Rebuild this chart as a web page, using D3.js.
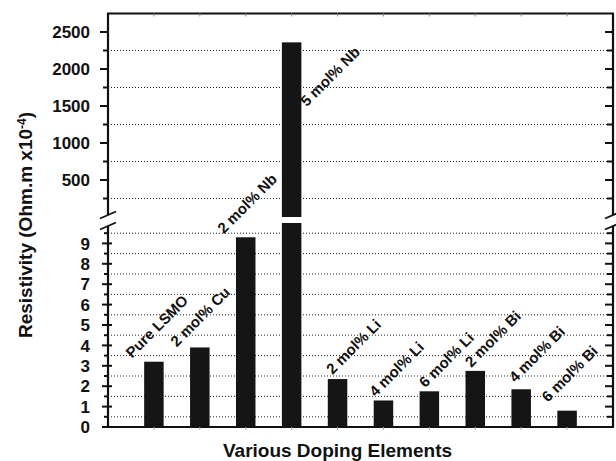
<!DOCTYPE html>
<html>
<head>
  <meta charset="UTF-8">
  <title>Resistivity by Doping Element</title>
  <style>
    body {
      margin: 0;
      padding: 0;
      background: #fff;
      font-family: "Liberation Sans", Arial, sans-serif;
    }
    svg text {
      font-weight: bold;
      fill: #111;
    }
  </style>
</head>
<body>
  <svg width="616" height="461"></svg>

  <script src="https://d3js.org/d3.v7.min.js"></script>
  <script>
    // data
    let categories = ["Pure LSMO", "2 mol% Cu", "2 mol% Nb", "5 mol% Nb", "2 mol% Li",
                      "4 mol% Li", "6 mol% Li", "2 mol% Bi", "4 mol% Bi", "6 mol% Bi"];
    let resistivity = [3.2, 3.9, 9.3, 2360, 2.35, 1.3, 1.75, 2.75, 1.85, 0.8];
    let upperTicks = [500, 1000, 1500, 2000, 2500];
    let lowerTicks = [0, 1, 2, 3, 4, 5, 6, 7, 8, 9];

    // hand placed label nudges, like in the original figure
    let labelDx = [-22, -23, -22, 15, -5, -8, -4, -4, -6, -19];
    let labelDy = [-3, 0, -3, 65, -4, -3, -3, -3, -6, -8];

    let pLeft = 108, pRight = 613, pTop = 13.5, pBottom = 427;
    let upBottom = 217, loTop = 223;

    let svg = d3.select("svg");

    let x = d3.scalePoint()
        .domain(categories)
        .range([pLeft, pRight])
        .padding(1);

    let yUp = d3.scaleLinear().domain([0, 2750]).range([upBottom, pTop]);
    let yLo = d3.scaleLinear().domain([0, 10]).range([pBottom, loTop]);
    let loMax = yLo.domain()[1];
    let barW = 19.5;

    // dotted grid lines at the half steps
    let upGrid = d3.range(250, 2750, 500);
    let loGrid = d3.range(0.5, 10, 1);

    let grid = svg.append("g")
        .attr("stroke", "#222")
        .attr("stroke-width", 1)
        .attr("stroke-dasharray", "1,2");

    grid.selectAll(".gu")
      .data(upGrid)
      .enter()
      .append("line")
        .attr("x1", pLeft).attr("x2", pRight)
        .attr("y1", d => yUp(d)).attr("y2", d => yUp(d));

    grid.selectAll(".gl")
      .data(loGrid)
      .enter()
      .append("line")
        .attr("x1", pLeft).attr("x2", pRight)
        .attr("y1", d => yLo(d)).attr("y2", d => yLo(d));

    // bars, split over the two segments
    let bars = svg.append("g").attr("fill", "#151515");

    categories.forEach((c, i) => {
      let v = resistivity[i];
      bars.append("rect")
          .attr("x", x(c) - barW / 2)
          .attr("width", barW)
          .attr("y", yLo(Math.min(v, loMax)))
          .attr("height", pBottom - yLo(Math.min(v, loMax)));
      if (v > loMax) {
        bars.append("rect")
            .attr("x", x(c) - barW / 2)
            .attr("width", barW)
            .attr("y", yUp(v))
            .attr("height", upBottom - yUp(v));
      }
    });

    // bar labels, rotated
    svg.append("g")
        .attr("font-size", "15px")
      .selectAll("text")
      .data(categories)
      .enter()
      .append("text")
        .attr("transform", (d, i) => {
          let v = resistivity[i];
          let yt = v > loMax ? yUp(v) : yLo(v);
          return "translate(" + (x(d) + labelDx[i]) + "," + (yt + labelDy[i]) + ") rotate(-45)";
        })
        .text(d => d);

    // axes
    let axisG = svg.append("g")
        .attr("stroke", "#111")
        .attr("fill", "none");

    // frame lines
    axisG.append("line").attr("x1", pLeft - 1).attr("x2", pRight + 1)
        .attr("y1", pTop).attr("y2", pTop).attr("stroke-width", 2.2);
    axisG.append("line").attr("x1", pLeft - 1).attr("x2", pRight + 1)
        .attr("y1", pBottom).attr("y2", pBottom).attr("stroke-width", 2.2);

    [pLeft, pRight].forEach(ax => {
      axisG.append("line").attr("x1", ax).attr("x2", ax)
          .attr("y1", pTop).attr("y2", upBottom - 2).attr("stroke-width", 2.2);
      axisG.append("line").attr("x1", ax).attr("x2", ax)
          .attr("y1", loTop + 3).attr("y2", pBottom).attr("stroke-width", 2.2);
      // break marks
      [upBottom - 2, loTop + 3].forEach(by => {
        axisG.append("line")
            .attr("x1", ax - 8).attr("y1", by + 3.5)
            .attr("x2", ax + 8).attr("y2", by - 3.5)
            .attr("stroke-width", 1.8);
      });
    });

    // ticks on the category axis
    categories.forEach(c => {
      axisG.append("line").attr("x1", x(c)).attr("x2", x(c))
          .attr("y1", pTop).attr("y2", pTop + 3).attr("stroke-width", 1).attr("stroke", "#888");
      axisG.append("line").attr("x1", x(c)).attr("x2", x(c))
          .attr("y1", pBottom).attr("y2", pBottom + 3).attr("stroke-width", 1).attr("stroke", "#aaa");
    });

    // value ticks, left outward, right inward
    let upMinor = d3.range(250, 2750, 500);
    let loMinor = d3.range(0.5, 10, 1);

    upperTicks.forEach(t => {
      axisG.append("line").attr("x1", pLeft - 8).attr("x2", pLeft)
          .attr("y1", yUp(t)).attr("y2", yUp(t)).attr("stroke-width", 2);
      axisG.append("line").attr("x1", pRight - 8).attr("x2", pRight)
          .attr("y1", yUp(t)).attr("y2", yUp(t)).attr("stroke-width", 2);
    });
    upMinor.forEach(t => {
      axisG.append("line").attr("x1", pLeft - 5).attr("x2", pLeft)
          .attr("y1", yUp(t)).attr("y2", yUp(t)).attr("stroke-width", 2);
      axisG.append("line").attr("x1", pRight - 6).attr("x2", pRight)
          .attr("y1", yUp(t)).attr("y2", yUp(t)).attr("stroke-width", 2);
    });
    lowerTicks.forEach(t => {
      axisG.append("line").attr("x1", pLeft - 6).attr("x2", pLeft + 4)
          .attr("y1", yLo(t)).attr("y2", yLo(t)).attr("stroke-width", 2);
      axisG.append("line").attr("x1", pRight - 8).attr("x2", pRight)
          .attr("y1", yLo(t)).attr("y2", yLo(t)).attr("stroke-width", 2);
    });
    loMinor.forEach(t => {
      axisG.append("line").attr("x1", pLeft - 4).attr("x2", pLeft)
          .attr("y1", yLo(t)).attr("y2", yLo(t)).attr("stroke-width", 2);
      axisG.append("line").attr("x1", pRight - 6).attr("x2", pRight)
          .attr("y1", yLo(t)).attr("y2", yLo(t)).attr("stroke-width", 2);
    });

    // tick labels
    let tl = svg.append("g")
        .attr("font-size", "17px")
        .attr("text-anchor", "end");

    tl.selectAll(".tu")
      .data(upperTicks)
      .enter()
      .append("text")
        .attr("x", 90)
        .attr("y", d => yUp(d))
        .attr("dy", "0.36em")
        .text(d => d);

    tl.selectAll(".tl")
      .data(lowerTicks)
      .enter()
      .append("text")
        .attr("x", 90)
        .attr("y", d => yLo(d))
        .attr("dy", "0.36em")
        .text(d => d);

    // axis titles
    svg.append("text")
        .attr("x", 337.5)
        .attr("y", 457)
        .attr("text-anchor", "middle")
        .attr("font-size", "19px")
        .text("Various Doping Elements");

    let yTitle = svg.append("text")
        .attr("transform", "translate(32,225) rotate(-90)")
        .attr("text-anchor", "middle")
        .attr("font-size", "19px");
    yTitle.append("tspan").text("Resistivity (Ohm.m x10");
    yTitle.append("tspan").attr("dy", "-0.5em").attr("font-size", "12px").text("-4");
    yTitle.append("tspan").attr("dy", "0.32em").text(")");
  </script>
</body>
</html>
